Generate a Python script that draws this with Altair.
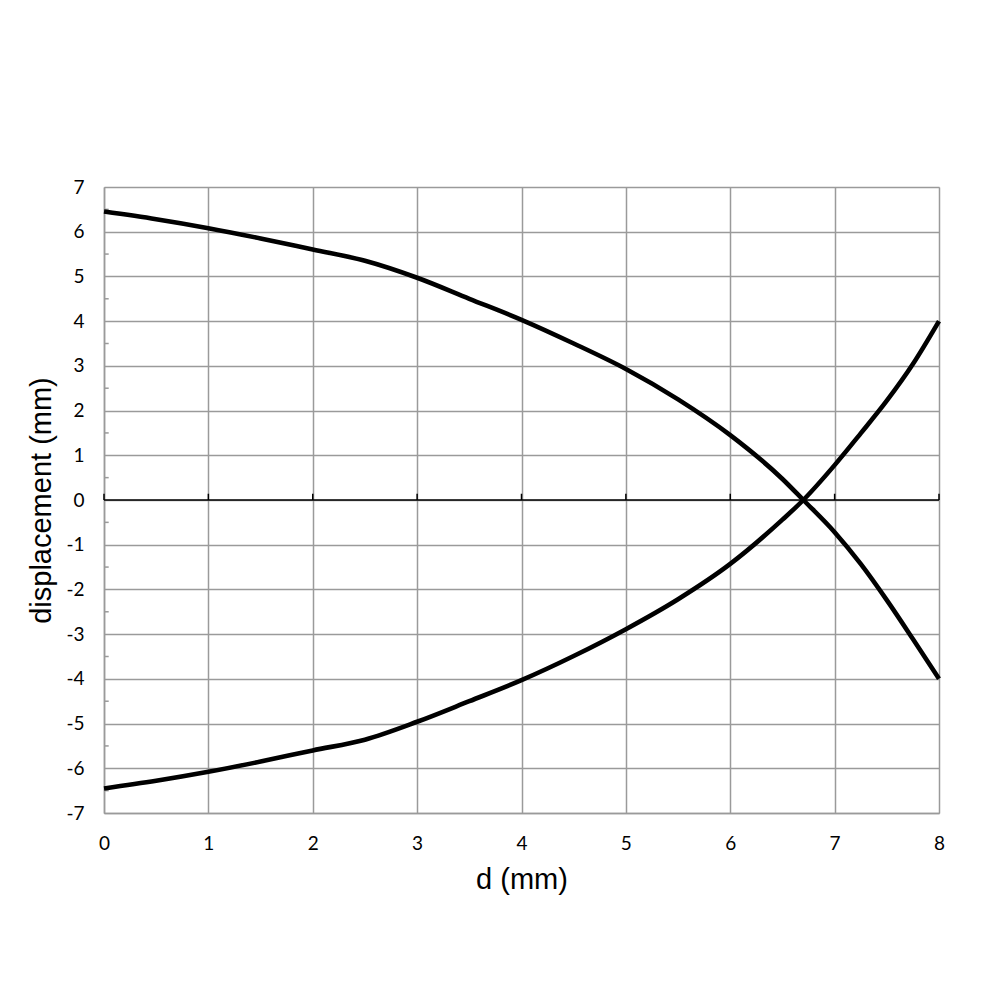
import altair as alt
import pandas as pd

# data
d_vals = [0, 0.5, 1, 1.5, 2, 2.5, 3, 3.5, 4, 4.5, 5, 5.5, 6, 6.5, 6.7, 7, 7.25, 7.5, 7.75, 8]
upper = [6.45, 6.28, 6.08, 5.85, 5.6, 5.35, 4.97, 4.5, 4.03, 3.5, 2.93, 2.25, 1.45, 0.47, 0.0,
         -0.72, -1.43, -2.24, -3.11, -4.0]
lower = [-6.45, -6.28, -6.08, -5.85, -5.6, -5.36, -4.96, -4.5, -4.03, -3.49, -2.89, -2.22, -1.43, -0.44, 0.0,
         0.78, 1.49, 2.22, 3.04, 4.0]
x_ticks = [0, 1, 2, 3, 4, 5, 6, 7, 8]
y_ticks = [-7, -6, -5, -4, -3, -2, -1, 0, 1, 2, 3, 4, 5, 6, 7]
y_minor = [-6.5, -5.5, -4.5, -3.5, -2.5, -1.5, -0.5, 0.5, 1.5, 2.5, 3.5, 4.5, 5.5, 6.5]

rows = []
for i, xv in enumerate(d_vals):
    rows.append({"d": xv, "v": upper[i], "s": "upper"})
    rows.append({"d": xv, "v": lower[i], "s": "lower"})
df = pd.DataFrame(rows)

GRID = "#9a9a9a"
xscale = alt.Scale(domain=[0, 8], nice=False, zero=False)
yscale = alt.Scale(domain=[-7, 7], nice=False, zero=False)

xaxis = alt.Axis(values=x_ticks, grid=True, gridColor=GRID, gridWidth=1.5, ticks=False,
                 domainColor=GRID, domainWidth=1.5, labelFont="Lato", labelFontSize=19,
                 labelColor="#000", labelPadding=21, title="d (mm)", titleFont="Liberation Sans",
                 titleFontSize=29, titleFontWeight="normal", titleColor="#000", titlePadding=12,
                 labelFlush=False, labelExpr="'' + datum.value")
yaxis = alt.Axis(values=y_ticks, grid=True, gridColor=GRID, gridWidth=1.5, ticks=False,
                 domainColor=GRID, domainWidth=1.5, labelFont="Lato", labelFontSize=19,
                 labelColor="#000", labelPadding=20, title="displacement (mm)",
                 titleFont="Liberation Sans", titleFontSize=29, titleFontWeight="normal",
                 titleColor="#000", titlePadding=9, labelFlush=False,
                 labelExpr="'' + datum.value")

lines = alt.Chart(df).mark_line(color="black", strokeWidth=4.6, interpolate="monotone").encode(
    x=alt.X("d:Q", scale=xscale, axis=xaxis),
    y=alt.Y("v:Q", scale=yscale, axis=yaxis),
    detail="s:N",
)

zero_df = pd.DataFrame({"x0": [0], "x1": [8], "y": [0]})
zero_line = alt.Chart(zero_df).mark_rule(color="black", strokeWidth=1.5).encode(
    x="x0:Q", x2="x1:Q", y="y:Q")

xt_df = pd.DataFrame({"x": x_ticks, "y0": [0] * len(x_ticks), "y1": [0.14] * len(x_ticks)})
xtick_marks = alt.Chart(xt_df).mark_rule(color="black", strokeWidth=1.5).encode(
    x="x:Q", y="y0:Q", y2="y1:Q")

ym_df = pd.DataFrame({"y": y_minor, "x0": [0] * len(y_minor), "x1": [0.045] * len(y_minor)})
ymin_marks = alt.Chart(ym_df).mark_rule(color=GRID, strokeWidth=1.5).encode(
    x="x0:Q", x2="x1:Q", y="y:Q")

chart = alt.layer(ymin_marks, zero_line, xtick_marks, lines).properties(
    width=835, height=626,
    autosize=alt.AutoSizeParams(type="none"),
    padding={"left": 96, "top": 179, "right": 53, "bottom": 179},
).configure_view(stroke=None).configure(background="white")

chart.save("out.html", embed_options={"renderer": "svg", "actions": False})
